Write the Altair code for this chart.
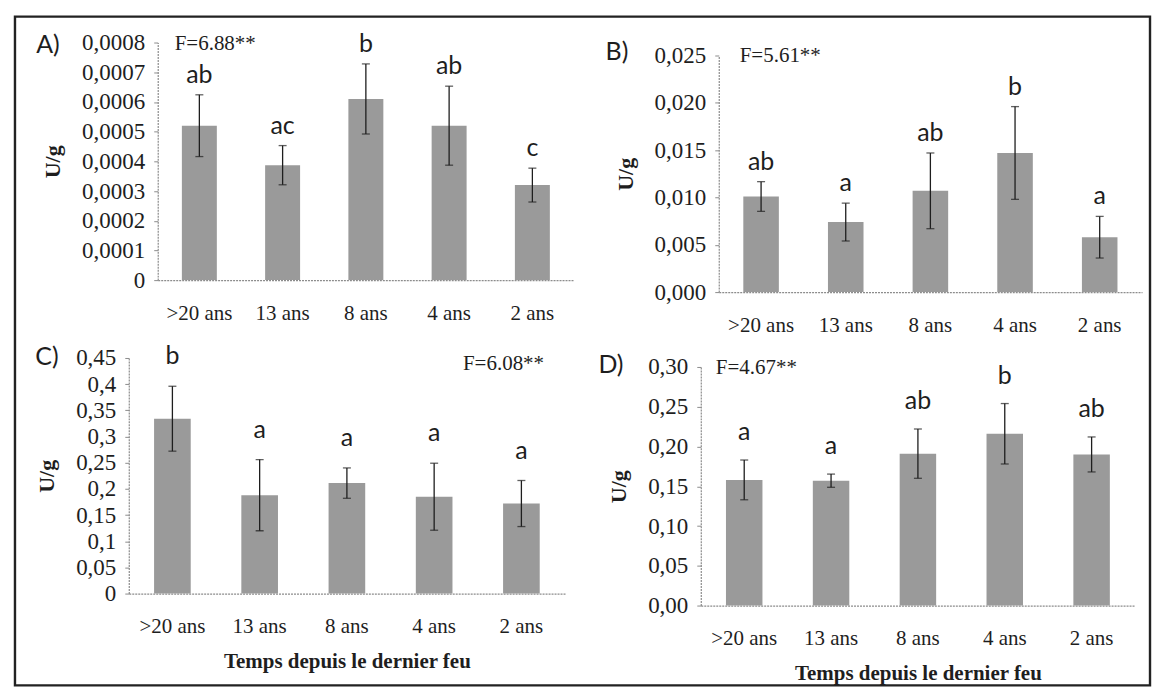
import altair as alt
import pandas as pd

cats = [">20 ans", "13 ans", "8 ans", "4 ans", "2 ans"]

# Panel A
a_mean = [0.00052, 0.000387, 0.00061, 0.00052, 0.00032]
a_err = [0.000104, 0.000066, 0.000118, 0.000133, 0.000057]
a_letters = ["ab", "ac", "b", "ab", "c"]
a_ticks = [0, 0.0001, 0.0002, 0.0003, 0.0004, 0.0005, 0.0006, 0.0007, 0.0008]

# Panel B
b_mean = [0.0101, 0.0074, 0.0107, 0.0147, 0.0058]
b_err = [0.00157, 0.0020, 0.0040, 0.0049, 0.0022]
b_letters = ["ab", "a", "ab", "b", "a"]
b_ticks = [0, 0.005, 0.010, 0.015, 0.020, 0.025]

# Panel C
c_mean = [0.334, 0.188, 0.211, 0.185, 0.172]
c_err = [0.062, 0.068, 0.029, 0.064, 0.044]
c_letters = ["b", "a", "a", "a", "a"]
c_ticks = [0, 0.05, 0.1, 0.15, 0.2, 0.25, 0.3, 0.35, 0.4, 0.45]

# Panel D
d_mean = [0.158, 0.157, 0.191, 0.216, 0.190]
d_err = [0.025, 0.0083, 0.031, 0.038, 0.022]
d_letters = ["a", "a", "ab", "b", "ab"]
d_ticks = [0, 0.05, 0.10, 0.15, 0.20, 0.25, 0.30]

SERIF = "Liberation Serif"
SANS = "Lato"
BAR = "#9a9a9a"
INK = "#1e1e1e"
AXC = "#8c8c8c"


def panel(mean, err, letters, ticks, label_expr, W, H, xr, yr, tag, tag_xy,
          ftext, f_xy, f_align, letter_dy, xtitle=None, extra=None):
    df = pd.DataFrame({"cat": cats, "mean": mean, "err": err, "letter": letters})
    base = alt.Chart(df).transform_calculate(
        lo="datum.mean - datum.err", hi="datum.mean + datum.err"
    )
    xscale = alt.Scale(paddingInner=0.58, paddingOuter=0.29, range=list(xr))
    yscale = alt.Scale(domain=[ticks[0], ticks[-1]], nice=False, range=list(yr))
    x_axis_kw = dict(
        labelAngle=0, labelFont=SERIF, labelFontSize=21, labelColor=INK,
        labelPadding=22, ticks=False, domainColor=AXC, domainDash=[2, 1],
        domainWidth=1.2, grid=False, labelOverlap=False,
    )
    if xtitle:
        x_axis_kw.update(title=xtitle, titleFont=SERIF, titleFontSize=21,
                         titleFontWeight="bold", titleColor=INK, titlePadding=14)
    else:
        x_axis_kw.update(title=None)
    x_axis = alt.Axis(**x_axis_kw)
    y_axis = alt.Axis(
        values=ticks, tickCount=len(ticks), labelExpr=label_expr, labelFont=SERIF,
        labelFontSize=23, labelColor=INK, labelPadding=9, tickSize=4, tickColor=AXC,
        domainColor=AXC, domainDash=[2, 1], domainWidth=1.2, grid=False,
        labelOverlap=False, labelSeparation=0, labelBound=False,
        offset=-xr[0],
        title="U/g", titleFont=SERIF, titleFontSize=22, titleFontWeight="bold",
        titleColor=INK, titlePadding=17,
    )
    x = alt.X("cat:N", sort=cats, scale=xscale, axis=x_axis)
    xs = alt.X("cat:N", sort=cats, scale=xscale, axis=x_axis)
    y = alt.Y("mean:Q", scale=yscale, axis=y_axis)
    ylo = alt.Y("lo:Q", scale=yscale, axis=y_axis)
    yhi = alt.Y("hi:Q", scale=yscale, axis=y_axis)
    bars = base.mark_bar(color=BAR).encode(x=x, y=y)
    rule = base.mark_rule(color=INK, strokeWidth=1.3).encode(x=xs, y=ylo, y2="hi:Q")
    cap_hi = base.mark_tick(color=INK, orient="horizontal", size=8, thickness=1.3).encode(
        x=xs, y=yhi)
    cap_lo = base.mark_tick(color=INK, orient="horizontal", size=8, thickness=1.3).encode(
        x=xs, y=ylo)
    lett = base.mark_text(font=SANS, fontSize=25, color=INK, baseline="alphabetic",
                          dy=-letter_dy).encode(x=xs, y=yhi, text="letter:N")
    tag_df = pd.DataFrame({"t": [tag]})
    tag_mark = alt.Chart(tag_df).mark_text(
        font=SANS, fontSize=25, color=INK, align="center", baseline="middle"
    ).encode(x=alt.value(tag_xy[0]), y=alt.value(tag_xy[1]), text="t:N")
    f_df = pd.DataFrame({"t": [ftext]})
    f_mark = alt.Chart(f_df).mark_text(
        font=SERIF, fontSize=21, color=INK, align=f_align, baseline="middle"
    ).encode(x=alt.value(f_xy[0]), y=alt.value(f_xy[1]), text="t:N")
    layers = [bars, rule, cap_hi, cap_lo, lett, tag_mark, f_mark]
    if extra is not None:
        layers.append(extra)
    return alt.layer(*layers).properties(width=W, height=H)


border = alt.Chart(pd.DataFrame({"v": [0]})).mark_rect(
    fillOpacity=0, stroke="#222222", strokeWidth=2.4
).encode(x=alt.value(-114), x2=alt.value(1023), y=alt.value(-342), y2=alt.value(328))

A = panel(a_mean, a_err, a_letters, a_ticks,
          "datum.value == 0 ? '0' : replace(format(datum.value, '.4f'), '.', ',')",
          446, 238, (29, 446), (238, 0), "A)", (-81, 2), "F=6.88**", (46, 1), "left", 12)
B = panel(b_mean, b_err, b_letters, b_ticks,
          "replace(format(datum.value, '.3f'), '.', ',')",
          442, 250, (18, 442), (250, 13), "B)", (-84, 10), "F=5.61**", (39, 14), "left", 12)
C = panel(c_mean, c_err, c_letters, c_ticks,
          "replace(format(datum.value, '.2~f'), '.', ',')",
          446, 236, (0, 437), (236, 0), "C)", (-82, -1), "F=6.08**", (416, 6), "right", 22,
          xtitle="Temps depuis le dernier feu", extra=border)
D = panel(d_mean, d_err, d_letters, d_ticks,
          "replace(format(datum.value, '.2f'), '.', ',')",
          442, 248, (0, 435), (248, 9), "D)", (-90, 7), "F=4.67**", (15, 10), "left", 20,
          xtitle="Temps depuis le dernier feu")

chart = alt.concat(
    A, B, C, D, columns=2, spacing={"row": 66, "column": 127}, bounds="flush"
).properties(
    padding={"left": 13, "top": 14, "right": 4, "bottom": 8},
    background="white",
).configure_view(stroke=None)

chart.save("out.html", embed_options={"renderer": "svg", "actions": False})
